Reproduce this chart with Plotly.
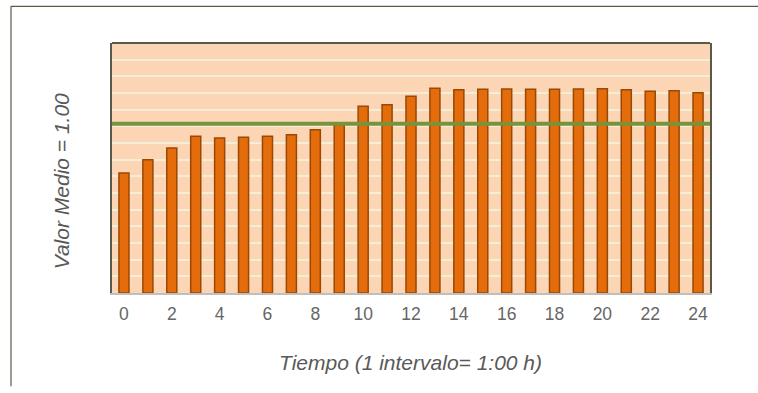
import plotly.graph_objects as go

# Data
hours = list(range(25))
values = [0.72, 0.80, 0.87, 0.94, 0.93, 0.935, 0.94, 0.95, 0.98, 1.01,
          1.12, 1.13, 1.18, 1.228, 1.22, 1.222, 1.224, 1.222, 1.222, 1.224,
          1.226, 1.22, 1.21, 1.214, 1.202]
mean_x = [-0.5, 24.5]
mean_y = [1.015, 1.015]
tick_vals = list(range(0, 25, 2))
x_title = "Tiempo (1 intervalo= 1:00 h)"
y_title = "Valor Medio = 1.00"

font_family = "Liberation Sans, Arial, sans-serif"
text_color = "#595959"
border = "#5A5A48"

L, T, PW, PH = 112, 42.7, 598, 250
def px(x):
    return (x - L) / PW
def py(y):
    return (T + PH - y) / PH

fig = go.Figure()
fig.add_trace(go.Bar(
    x=hours, y=values,
    marker=dict(color="#E46C0A", line=dict(color="#984807", width=1.5)),
    width=0.42,
    showlegend=False,
))
fig.add_trace(go.Scatter(
    x=mean_x, y=mean_y, mode="lines",
    line=dict(color="#77933C", width=4),
    showlegend=False, cliponaxis=False,
))

fig.update_layout(
    width=758, height=393,
    margin=dict(l=112, r=48, t=43, b=100),
    paper_bgcolor="white",
    plot_bgcolor="#FCD5B5",
    font=dict(family=font_family, color=text_color),
    xaxis=dict(
        range=[-0.5, 24.5],
        tickmode="array", tickvals=tick_vals,
        ticktext=[str(v) for v in tick_vals],
        tickfont=dict(size=17.5, color="#666666"),
        ticklabelstandoff=4,
        showgrid=False, zeroline=False,
        showline=True, linecolor="#BFBFBF", linewidth=1.5,
        ticks="",
    ),
    yaxis=dict(
        range=[0, 1.5], dtick=0.1,
        showticklabels=False, ticks="",
        showgrid=True, gridcolor="#F4EED6", gridwidth=1.5,
        zeroline=False,
        showline=True, linecolor=border, linewidth=2, mirror=True,
    ),
    annotations=[
        dict(text="<i>" + x_title + "</i>", xref="paper", yref="paper",
             x=px(410), y=py(362), xanchor="center", yanchor="middle",
             showarrow=False, font=dict(size=21, color=text_color)),
        dict(text="<i>" + y_title + "</i>", xref="paper", yref="paper",
             x=px(61), y=py(181), xanchor="center", yanchor="middle",
             textangle=-90, showarrow=False,
             font=dict(size=21, color=text_color)),
    ],
    shapes=[
        dict(type="line", xref="paper", yref="paper", x0=0, x1=1, y0=1, y1=1,
             line=dict(color=border, width=2)),
        dict(type="line", xref="paper", yref="paper",
             x0=px(11), x1=px(760), y0=py(6), y1=py(6),
             line=dict(color=border, width=1.2)),
        dict(type="line", xref="paper", yref="paper",
             x0=px(11), x1=px(11), y0=py(6), y1=py(386),
             line=dict(color=border, width=1.2)),
    ],
)

fig.write_html(
    "out.html",
    config={"displayModeBar": False},
    post_script="document.body.style.margin='0';document.documentElement.style.overflow='hidden';",
)
